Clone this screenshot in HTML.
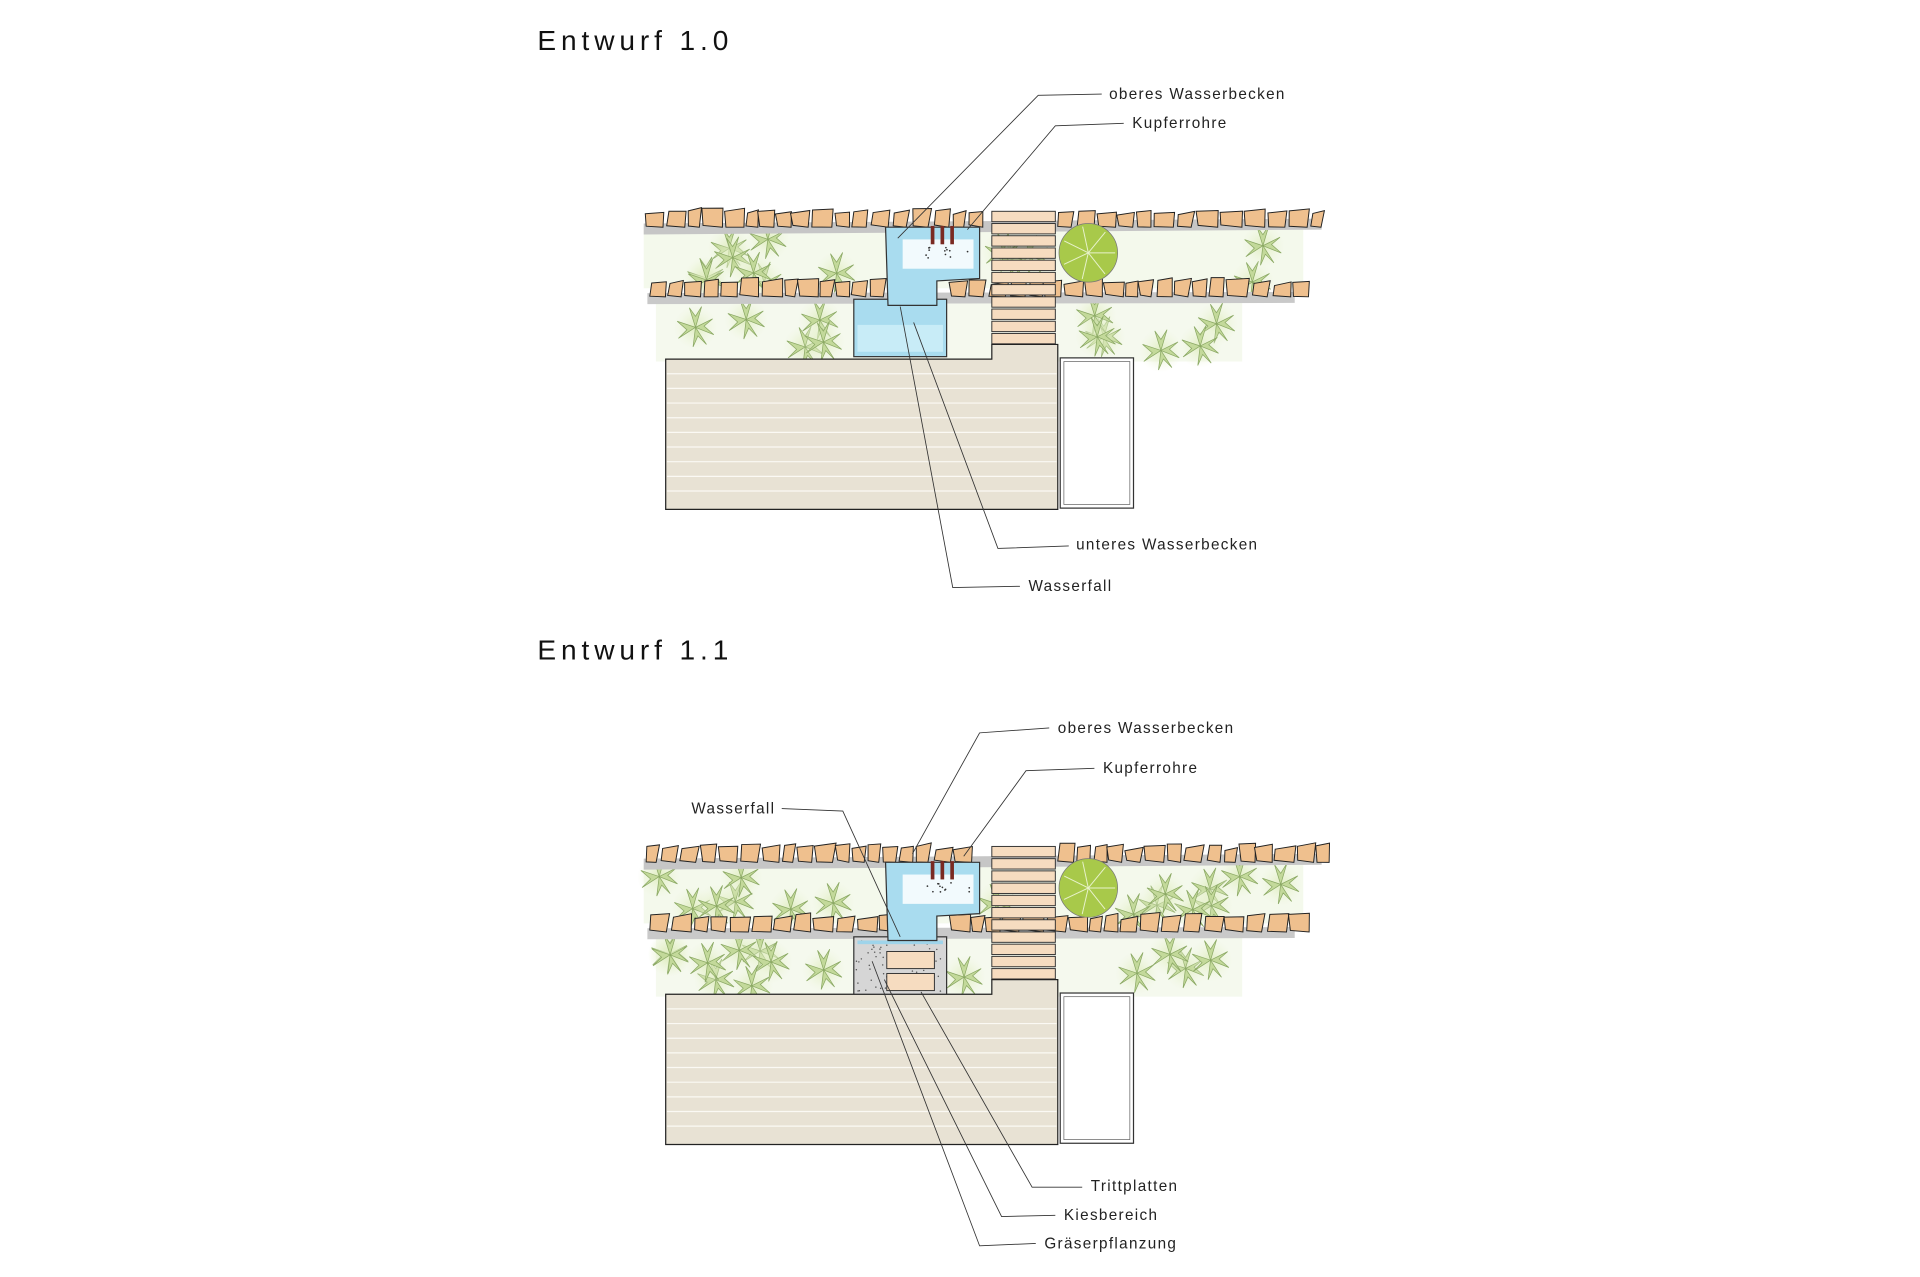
<!DOCTYPE html>
<html><head><meta charset="utf-8"><style>
html,body{margin:0;padding:0;background:#fff;width:1920px;height:1277px;overflow:hidden}
svg{display:block}
text{font-family:"Liberation Sans","DejaVu Sans",sans-serif;fill:#222}
.lbl{font-size:12.5px;letter-spacing:1.1px}
.ttl{font-size:23px;letter-spacing:4px;fill:#111}
.ld{fill:none;stroke:#333;stroke-width:0.7}
</style></head><body>
<svg id="s" width="1920" height="1277" viewBox="-2 -2 1571.9 1045.5" xmlns="http://www.w3.org/2000/svg">
<defs>
<radialGradient id="gl" cx="50%" cy="50%" r="50%"><stop offset="0" stop-color="#dcebb8" stop-opacity="0.9"/><stop offset="1" stop-color="#eef5dc" stop-opacity="0"/></radialGradient>
<g id="pl">
<circle r="18" fill="url(#gl)"/>
<path d="M0,0 L-5,-16 L0,-9 L5,-17 Z M0,0 L14,-7 L7,-1 L15,6 Z M0,0 L9,14 L2,7 L-2,16 Z M0,0 L-14,9 L-7,2 L-15,-5 Z" fill="#c3d99a" stroke="#8aa863" stroke-width="0.6"/>
</g>
</defs>
<text class="ttl" x="438" y="39">Entwurf 1.0</text>
<text class="ttl" x="438" y="538">Entwurf 1.1</text>
<g id="d0"></g>
<g id="d1" transform="translate(0,520)"></g>

<text class="lbl" x="906" y="79">oberes Wasserbecken</text>
<polyline class="ld" points="900,75 848,76 733,193"/>
<text class="lbl" x="925" y="103">Kupferrohre</text>
<polyline class="ld" points="918,99 862,101 790,186"/>
<text class="lbl" x="879" y="448">unteres Wasserbecken</text>
<polyline class="ld" points="873,445 815,447 746,262"/>
<text class="lbl" x="840" y="482">Wasserfall</text>
<polyline class="ld" points="833,478 778,479 735,249"/>
<text class="lbl" x="864" y="598">oberes Wasserbecken</text>
<polyline class="ld" points="857,594 800,598 745,697"/>
<text class="lbl" x="901" y="631">Kupferrohre</text>
<polyline class="ld" points="894,627 838,629 787,699"/>
<text class="lbl" x="564" y="664">Wasserfall</text>
<polyline class="ld" points="638,660 688,662 735,765"/>
<text class="lbl" x="891" y="973">Trittplatten</text>
<polyline class="ld" points="884,970 843,970 752,810"/>
<text class="lbl" x="869" y="997">Kiesbereich</text>
<polyline class="ld" points="862,993 818,994 722,800"/>
<text class="lbl" x="853" y="1020">Gräserpflanzung</text>
<polyline class="ld" points="846,1016 800,1018 712,785"/>
</svg>
<script>
var NS="http://www.w3.org/2000/svg";
function el(p,t,a){var e=document.createElementNS(NS,t);for(var k in a)e.setAttribute(k,a[k]);p.appendChild(e);return e;}
var seed=7;function r(){seed=(seed*9301+49297)%233280;return seed/233280;}
function stones(g,x0,x1,y,skip){for(var x=x0;x<x1;){var w=10+r()*8;if(skip&&x+w>skip[0]&&x<skip[1]){x=skip[1];continue;}
var h=12+r()*4,a=(r()-0.5)*4;el(g,'polygon',{points:(x+a)+','+(y-h+r()*3)+' '+(x+w)+','+(y-h)+' '+(x+w-r()*3)+','+y+' '+x+','+(y-r()*2),fill:'#efc08e',stroke:'#222','stroke-width':0.8});x+=w+1+r()*2;}}
function build(g,v){
 el(g,'rect',{x:525,y:186,width:540,height:48,fill:'#f4f9ec'});
 el(g,'rect',{x:535,y:244,width:480,height:50,fill:'#f5f9ee'});
 for(var i=0;i<22;i++){var px=535+r()*520,py=192+r()*38;if(px>715&&px<810)continue;if(px>862&&px<915)continue;el(g,'use',{href:'#pl',x:px,y:py});}
 for(var i=0;i<18;i++){var px=545+r()*470,py=252+r()*34;if(px>690&&px<775)continue;if(px>805&&px<866)continue;el(g,'use',{href:'#pl',x:px,y:py});}
 el(g,'polygon',{points:'525,181 1080,177 1080,186 525,190',fill:'#c6c6c6'});
 el(g,'polygon',{points:'528,238 1058,237 1058,246 528,247',fill:'#c9c9c9'});
 stones(g,527,1078,184,[806,864]);
 stones(g,530,1058,241,[766,777]);
 for(var i=0;i<11;i++){el(g,'rect',{x:810,y:171+i*10,width:52,height:8.5,fill:'#f6dcc0',stroke:'#333','stroke-width':0.8});}
 el(g,'circle',{cx:889,cy:205,r:24,fill:'#a8c94a',stroke:'#777','stroke-width':0.6});
 for(var k=0;k<7;k++){var an=k*0.9;el(g,'line',{x1:889,y1:205,x2:889+22*Math.cos(an),y2:205+22*Math.sin(an),stroke:'#e8f2cc','stroke-width':0.8});}
 el(g,'polygon',{points:'543,292 810,292 810,280 864,280 864,415 543,415',fill:'#e8e2d4',stroke:'#222','stroke-width':1});
 for(var y=304;y<412;y+=12)el(g,'line',{x1:544,y1:y,x2:863,y2:y,stroke:'#fbf9f4','stroke-width':1});
 el(g,'rect',{x:866,y:291,width:60,height:123,fill:'#fff',stroke:'#333','stroke-width':1});
 el(g,'rect',{x:869,y:294,width:54,height:117,fill:'none',stroke:'#666','stroke-width':0.6});
 if(v==0){
  el(g,'rect',{x:697,y:243,width:76,height:47,fill:'#a9dcef',stroke:'#333','stroke-width':1});
  el(g,'rect',{x:700,y:264,width:70,height:22,fill:'#c8ecf7'});
 } else {
  el(g,'rect',{x:697,y:245,width:76,height:47,fill:'#d6d6d6',stroke:'#333','stroke-width':1});
  for(var i=0;i<70;i++)el(g,'circle',{cx:699+r()*72,cy:247+r()*43,r:0.6,fill:'#555'});
  el(g,'rect',{x:724,y:257,width:39,height:14,fill:'#f6dcc0',stroke:'#333','stroke-width':0.8});
  el(g,'rect',{x:724,y:275,width:39,height:14,fill:'#f6dcc0',stroke:'#333','stroke-width':0.8});
  el(g,'rect',{x:700,y:248,width:70,height:3,fill:'#9fd4ea'});
 }
 el(g,'polygon',{points:'723,184 800,184 800,226 765,228 765,248 725,248',fill:'#a9dcef',stroke:'#333','stroke-width':1});
 el(g,'rect',{x:737,y:194,width:58,height:24,fill:'#fff',opacity:0.85});
 for(var k=0;k<3;k++)el(g,'rect',{x:760+k*8,y:183,width:3,height:15,fill:'#7a2a22'});
 for(var i=0;i<12;i++)el(g,'circle',{cx:752+r()*40,cy:200+r()*10,r:0.7,fill:'#333'});
}
build(document.getElementById('d0'),0);
build(document.getElementById('d1'),1);
</script>
</body></html>
